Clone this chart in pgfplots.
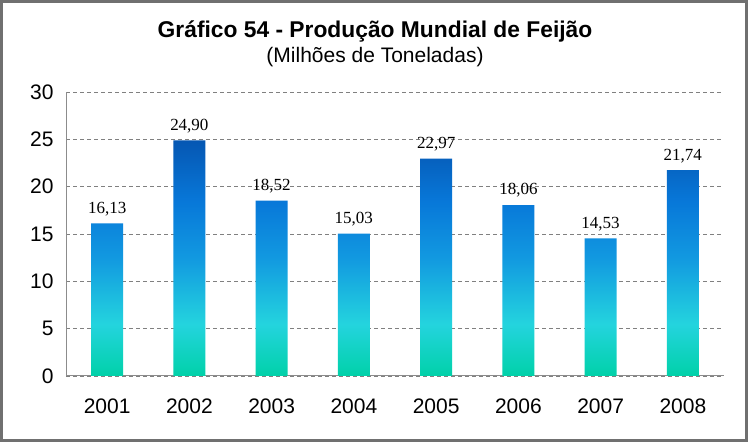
\documentclass[border=0pt]{standalone}
\usepackage{fontspec}
\setmainfont{Liberation Sans}
\newfontfamily\labelfont{Liberation Serif}
\usepackage{pgfplots}
\pgfplotsset{compat=1.18}

% per-bar gradient, bottom (teal) to top (dark blue)
\pgfdeclareverticalshading{barshade}{100bp}{%
  rgb(0bp)=(0,0.82,0.66);
  rgb(25bp)=(0,0.82,0.66);
  rgb(36bp)=(0.14,0.83,0.87);
  rgb(50bp)=(0.07,0.60,0.88);
  rgb(62bp)=(0.03,0.47,0.85);
  rgb(75bp)=(0.02,0.34,0.70);
  rgb(100bp)=(0.02,0.34,0.70)}

\definecolor{framegray}{HTML}{707070}
\definecolor{axisgray}{HTML}{8C8C8C}

\begin{document}
\begin{tikzpicture}
\useasboundingbox (0,0) rectangle (748pt,442pt);
\fill[framegray] (0,0) rectangle (748pt,442pt);
\fill[white] (3pt,3pt) rectangle (745pt,439pt);

\node[font=\bfseries\fontsize{22.8}{26}\selectfont] at (375pt,410pt) {Gráfico 54 - Produção Mundial de Feijão};
\node[font=\fontsize{21}{24}\selectfont] at (375pt,385pt) {(Milhões de Toneladas)};

\begin{axis}[
    at={(66pt,66pt)}, anchor=south west,
    scale only axis,
    width=658pt, height=284pt,
    xmin=0.5, xmax=8.5,
    ymin=0, ymax=30,
    ytick={0,5,...,30},
    xtick={1,...,8},
    xticklabels={2001,2002,2003,2004,2005,2006,2007,2008},
    axis x line*=bottom,
    axis y line*=left,
    axis line style={draw=axisgray, line width=1pt, -},
    major tick length=0pt,
    ymajorgrids=true,
    major grid style={draw=gray, dash pattern=on 4pt off 3pt, line width=0.7pt},
    /pgf/number format/assume math mode=true,
    tick label style={font=\fontsize{21}{24}\selectfont},
    yticklabel style={xshift=-9pt},
    xticklabel style={yshift=-19pt},
    nodes near coords,
    nodes near coords style={
        font=\labelfont\fontsize{17}{19}\selectfont,
        yshift=4pt,
        /pgf/number format/.cd, fixed, fixed zerofill, precision=2, use comma, assume math mode=true},
]
\addplot[ybar, bar width=32pt, draw=none, shading=barshade]
    coordinates {
        (1,16.13)
        (2,24.90)
        (3,18.52)
        (4,15.03)
        (5,22.97)
        (6,18.06)
        (7,14.53)
        (8,21.74)
    };
\end{axis}
\end{tikzpicture}
\end{document}
